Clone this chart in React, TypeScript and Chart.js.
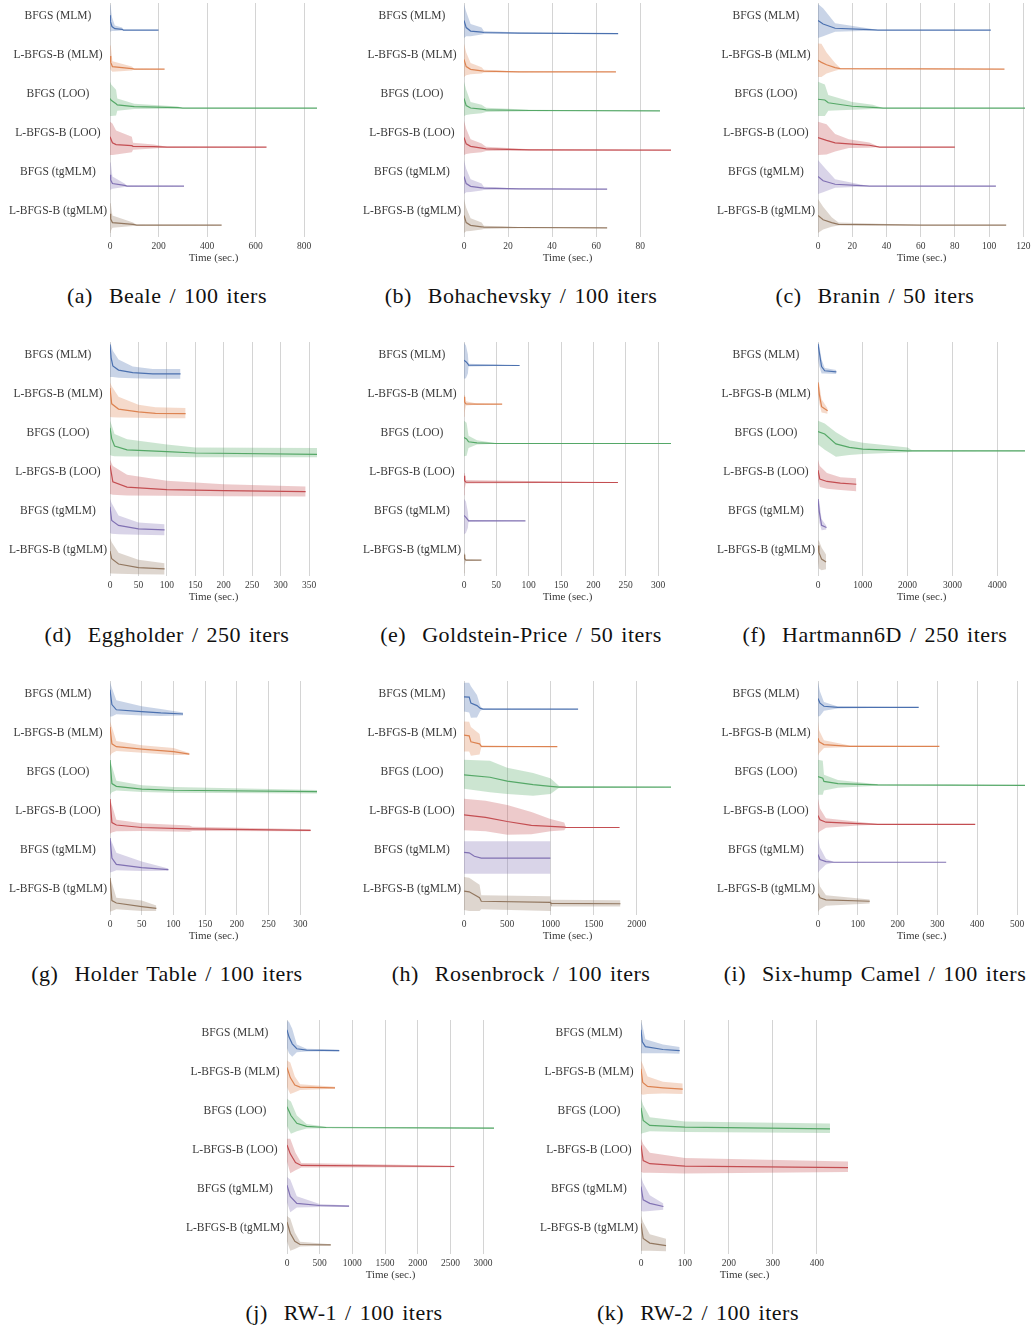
import React, { useEffect, useRef } from "react";
import { Chart, registerables } from "chart.js";

Chart.register(...registerables);

// Each point: [time (sec.), mean, lower band, upper band]; values are row-normalised (0 = row bottom, 1 = row top)
type Pt = [number, number, number, number];

const rowLabels = [
  "BFGS (MLM)",
  "L-BFGS-B (MLM)",
  "BFGS (LOO)",
  "L-BFGS-B (LOO)",
  "BFGS (tgMLM)",
  "L-BFGS-B (tgMLM)",
];

const panelTitles = [
  "(a)  Beale / 100 iters",
  "(b)  Bohachevsky / 100 iters",
  "(c)  Branin / 50 iters",
  "(d)  Eggholder / 250 iters",
  "(e)  Goldstein-Price / 50 iters",
  "(f)  Hartmann6D / 250 iters",
  "(g)  Holder Table / 100 iters",
  "(h)  Rosenbrock / 100 iters",
  "(i)  Six-hump Camel / 100 iters",
  "(j)  RW-1 / 100 iters",
  "(k)  RW-2 / 100 iters",
];

const panelXMax = [853, 94, 121, 364, 320, 4620, 326, 2395, 520, 3167, 471];

const panelXTicks = [
  [0, 200, 400, 600, 800],
  [0, 20, 40, 60, 80],
  [0, 20, 40, 60, 80, 100, 120],
  [0, 50, 100, 150, 200, 250, 300, 350],
  [0, 50, 100, 150, 200, 250, 300],
  [0, 1000, 2000, 3000, 4000],
  [0, 50, 100, 150, 200, 250, 300],
  [0, 500, 1000, 1500, 2000],
  [0, 100, 200, 300, 400, 500],
  [0, 500, 1000, 1500, 2000, 2500, 3000],
  [0, 100, 200, 300, 400],
];

const bealeRuns: Pt[][] = [
  [[0, .65, .18, .99], [2, .47, .18, .95], [8, .33, .2, .6], [20, .27, .2, .36], [50, .25, .22, .3], [55, .23, .23, .23], [200, .23, .23, .23]],
  [[0, .6, .25, .96], [3, .42, .2, .9], [10, .3, .15, .45], [90, .24, .19, .3], [100, .23, .22, .24], [225, .23, .23, .23]],
  [[0, .5, 0, .98], [5, .45, 0, .9], [25, .35, .02, .75], [30, .32, .15, .5], [100, .27, .2, .35], [280, .24, .21, .27], [300, .23, .23, .23], [853, .23, .23, .23]],
  [[0, .52, 0, .95], [10, .35, 0, .9], [25, .3, .02, .7], [90, .27, .08, .52], [95, .25, .15, .35], [180, .24, .19, .3], [235, .23, .22, .24], [645, .23, .23, .23]],
  [[0, .55, .12, .97], [3, .4, .12, .9], [10, .3, .15, .5], [60, .25, .2, .3], [70, .23, .22, .24], [305, .23, .23, .23]],
  [[0, .55, 0, .94], [3, .4, .05, .85], [10, .3, .15, .5], [95, .25, .2, .3], [110, .23, .22, .24], [460, .23, .23, .23]],
];

const bohachevskyRuns: Pt[][] = [
  [[0, .5, 0, .97], [1, .3, .05, .75], [3, .2, .05, .4], [8, .17, .1, .3], [9, .16, .12, .2], [25, .14, .13, .16], [70, .13, .13, .13]],
  [[0, .5, 0, .96], [1, .3, .05, .7], [3, .22, .08, .4], [8, .18, .1, .28], [9, .17, .13, .21], [25, .15, .14, .16], [69, .15, .15, .15]],
  [[0, .5, 0, .98], [1, .3, .03, .75], [3, .23, .05, .4], [8, .2, .08, .32], [10, .18, .12, .24], [30, .16, .14, .18], [89, .15, .15, .15]],
  [[0, .5, 0, .98], [1, .32, .03, .75], [3, .25, .05, .45], [8, .2, .08, .33], [10, .18, .12, .24], [30, .15, .13, .17], [94, .14, .14, .14]],
  [[0, .5, 0, .97], [1, .3, .05, .72], [3, .22, .06, .42], [8, .18, .1, .3], [9, .17, .12, .21], [25, .15, .14, .16], [65, .14, .14, .14]],
  [[0, .5, 0, .97], [1, .3, .05, .72], [3, .22, .06, .42], [8, .18, .1, .3], [9, .17, .12, .21], [25, .16, .14, .17], [65, .15, .15, .15]],
];

const braninRuns: Pt[][] = [
  [[0, .5, 0, .97], [3, .4, .05, .85], [10, .28, .18, .42], [30, .24, .21, .27], [35, .23, .23, .23], [101, .23, .23, .23]],
  [[0, .48, 0, .96], [2, .42, 0, .95], [5, .35, .1, .7], [10, .27, .18, .4], [13, .24, .22, .26], [109, .23, .23, .23]],
  [[0, .48, 0, .98], [4, .46, 0, .9], [6, .38, .15, .6], [20, .28, .18, .4], [32, .25, .2, .32], [38, .23, .23, .23], [121, .23, .23, .23]],
  [[0, .5, 0, .95], [5, .42, .02, .88], [10, .35, .1, .6], [18, .32, .2, .45], [30, .28, .21, .36], [36, .23, .23, .23], [80, .23, .23, .23]],
  [[0, .5, 0, .97], [3, .38, .05, .8], [10, .28, .18, .42], [25, .24, .21, .27], [30, .23, .23, .23], [104, .23, .23, .23]],
  [[0, .5, 0, .97], [3, .38, .1, .75], [8, .3, .18, .45], [12, .25, .22, .3], [60, .23, .23, .23], [110, .23, .23, .23]],
];

const eggholderRuns: Pt[][] = [
  [[0, .93, 0, .97], [2, .55, 0, .9], [5, .32, 0, .75], [15, .2, -.02, .5], [40, .13, -.03, .3], [75, .09, -.05, .23], [124, .09, -.05, .23]],
  [[0, .8, -.02, .96], [3, .35, -.03, .85], [15, .2, -.04, .55], [50, .12, -.05, .32], [80, .08, -.06, .25], [133, .07, -.06, .23]],
  [[0, .78, 0, .98], [3, .47, -.02, .85], [8, .26, -.03, .6], [30, .15, -.04, .45], [100, .1, -.05, .3], [150, .06, -.06, .22], [364, .02, -.06, .2]],
  [[0, .82, 0, .98], [5, .35, -.02, .8], [30, .2, -.04, .55], [100, .13, -.05, .38], [200, .1, -.06, .28], [344, .07, -.07, .22]],
  [[0, .75, 0, .97], [3, .36, -.02, .85], [15, .22, -.03, .5], [50, .12, -.05, .3], [96, .09, -.06, .25]],
  [[0, .6, -.03, .97], [3, .38, -.04, .85], [15, .23, -.05, .55], [50, .13, -.06, .35], [96, .09, -.07, .25]],
];

const goldsteinRuns: Pt[][] = [
  [[0, .48, -.05, .98], [3, .44, -.03, .9], [6, .38, .1, .65], [7, .34, .3, .38], [86, .33, .33, .33]],
  [[0, .55, -.02, .98], [1, .4, .1, .6], [3, .35, .3, .42], [20, .34, .32, .36], [59, .34, .34, .34]],
  [[0, .5, -.03, .98], [4, .46, -.02, .92], [7, .38, .2, .55], [20, .35, .3, .42], [50, .33, .32, .34], [320, .33, .33, .33]],
  [[0, .52, -.03, .98], [1, .38, .15, .6], [3, .34, .3, .4], [238, .33, .33, .33]],
  [[0, .5, -.03, .98], [3, .45, 0, .9], [6, .38, .15, .6], [7, .35, .33, .37], [95, .35, .35, .35]],
  [[0, .5, -.03, .98], [1, .38, .2, .55], [3, .34, .32, .36], [27, .34, .34, .34]],
];

const hartmannRuns: Pt[][] = [
  [[0, .95, .5, .98], [30, .7, .3, .9], [80, .3, .1, .5], [150, .18, .1, .26], [410, .15, .09, .2]],
  [[0, .96, .6, .98], [30, .62, .35, .9], [80, .27, .1, .48], [215, .15, .07, .22]],
  [[0, .67, .3, .98], [150, .6, .15, .9], [400, .32, -.05, .65], [700, .22, 0, .42], [1000, .17, .03, .35], [2000, .12, .08, .22], [2100, .12, .1, .14], [4620, .12, .11, .13]],
  [[0, .68, .4, .98], [40, .43, .2, .8], [200, .36, .15, .6], [500, .31, .12, .48], [855, .28, .08, .45]],
  [[0, .97, .6, .98], [30, .6, .3, .9], [80, .22, .08, .4], [190, .16, .1, .2]],
  [[0, .76, .3, .98], [20, .56, .1, .9], [80, .37, .05, .7], [180, .29, .08, .5]],
];

const holderRuns: Pt[][] = [
  [[0, .75, -.01, .97], [3, .33, -.01, .8], [10, .18, .05, .45], [50, .13, .02, .28], [80, .09, 0, .2], [115, .06, .02, .1]],
  [[0, .8, -.02, .96], [3, .32, .05, .8], [10, .24, .12, .4], [50, .17, .07, .28], [100, .1, 0, .2], [125, .03, 0, .06]],
  [[0, .97, -.02, .98], [3, .3, .05, .8], [10, .22, .1, .38], [50, .14, .06, .25], [100, .11, .04, .2], [326, .07, .02, .12]],
  [[0, .97, -.02, .98], [3, .3, .02, .8], [10, .23, .05, .38], [50, .16, .06, .28], [125, .12, .04, .22], [130, .12, .06, .18], [316, .08, .05, .11]],
  [[0, .97, -.01, .97], [3, .4, 0, .85], [10, .22, .05, .55], [50, .13, .03, .3], [92, .07, .04, .1]],
  [[0, .94, -.02, .97], [3, .3, 0, .8], [10, .23, .05, .38], [50, .13, 0, .3], [73, .08, 0, .16]],
];

const rosenbrockRuns: Pt[][] = [
  [[0, .55, .13, .95], [60, .54, .1, .95], [80, .37, -.05, .85], [150, .3, -.04, .6], [190, .22, .15, .28], [220, .2, .19, .21], [1320, .2, .2, .2]],
  [[0, .57, .1, .96], [60, .55, .1, .95], [80, .38, -.02, .8], [180, .32, .02, .6], [200, .25, .22, .28], [1080, .24, .24, .24]],
  [[0, .55, .15, .98], [300, .48, .05, .95], [500, .37, 0, .75], [800, .27, -.05, .6], [1000, .22, 0, .45], [1100, .2, .18, .23], [2395, .2, .2, .2]],
  [[0, .52, .08, .98], [250, .45, .05, .92], [500, .33, -.05, .8], [780, .22, -.03, .6], [1000, .19, .05, .4], [1160, .17, .08, .3], [1180, .16, .16, .16], [1800, .16, .16, .16]],
  [[0, .56, -.05, .88], [60, .55, -.05, .88], [120, .45, -.05, .88], [200, .4, -.05, .88], [1000, .4, -.05, .88]],
  [[0, .57, .03, .97], [60, .55, 0, .95], [180, .38, 0, .75], [200, .28, .05, .45], [1000, .25, 0, .42], [1005, .22, .13, .32], [1810, .21, .13, .31]],
];

const camelRuns: Pt[][] = [
  [[0, .5, -.01, .97], [5, .37, 0, .7], [15, .28, .15, .4], [50, .25, .22, .27], [253, .25, .25, .25]],
  [[0, .48, -.02, .96], [3, .38, .05, .7], [15, .3, .2, .42], [80, .25, .23, .27], [305, .25, .25, .25]],
  [[0, .5, -.02, .98], [12, .45, -.02, .95], [15, .36, .1, .55], [50, .3, .18, .4], [150, .26, .24, .28], [520, .25, .25, .25]],
  [[0, .5, 0, .98], [5, .38, .05, .7], [20, .31, .15, .42], [100, .27, .22, .32], [150, .25, .24, .26], [395, .25, .25, .25]],
  [[0, .5, -.02, .97], [5, .36, .05, .7], [20, .3, .22, .38], [40, .28, .27, .29], [322, .28, .28, .28]],
  [[0, .5, -.02, .97], [5, .38, .05, .7], [20, .32, .15, .45], [130, .28, .22, .33]],
];

const rw1Runs: Pt[][] = [
  [[0, .72, .2, .97], [30, .52, .05, .95], [80, .32, -.05, .75], [150, .18, .08, .3], [300, .14, .1, .18], [800, .13, .11, .15]],
  [[0, .76, .2, .96], [50, .47, 0, .9], [120, .26, .05, .5], [200, .2, .12, .28], [735, .18, .15, .21]],
  [[0, .75, .2, .98], [60, .5, -.02, .9], [150, .28, .05, .5], [300, .19, .13, .26], [600, .16, .14, .18], [3167, .14, .13, .15]],
  [[0, .77, .3, .95], [50, .52, -.03, .95], [130, .27, .05, .55], [220, .19, .13, .26], [2560, .16, .14, .18]],
  [[0, .74, .25, .97], [50, .42, -.03, .9], [150, .22, .1, .42], [500, .16, .12, .2], [950, .14, .12, .16]],
  [[0, .8, .25, .97], [50, .48, -.02, .9], [120, .25, .03, .5], [200, .16, .1, .24], [670, .15, .13, .17]],
];

const rw2Runs: Pt[][] = [
  [[0, .72, .05, .97], [3, .38, .05, .85], [10, .24, .05, .45], [50, .16, .05, .3], [88, .13, .04, .23]],
  [[0, .72, 0, .96], [4, .33, -.02, .85], [15, .22, 0, .5], [50, .18, .02, .35], [95, .14, 0, .3]],
  [[0, .72, -.02, .98], [5, .36, 0, .8], [20, .22, .05, .45], [100, .17, .03, .33], [430, .12, 0, .27]],
  [[0, .76, 0, .95], [5, .33, -.02, .8], [20, .24, -.02, .55], [100, .17, -.04, .4], [471, .13, 0, .3]],
  [[0, .7, 0, .97], [5, .32, -.01, .8], [20, .22, 0, .45], [51, .13, .04, .22]],
  [[0, .76, -.02, .97], [5, .33, -.02, .8], [20, .2, -.02, .45], [57, .13, -.03, .32]],
];

const panelRuns = [
  bealeRuns, bohachevskyRuns, braninRuns, eggholderRuns, goldsteinRuns, hartmannRuns,
  holderRuns, rosenbrockRuns, camelRuns, rw1Runs, rw2Runs,
];

// ---- styling ----
const rowColors = ["#4C72B0", "#DD8452", "#55A868", "#C44E52", "#8172B3", "#937860"];
const FONT = "'Liberation Serif', 'Times New Roman', serif";
const TEXT = "#3a3a3a";
const ROW_SPAN = 0.9;
const PLOT_W = 207;
const PLOT_H = 234;
const YAXIS_W = 110;
const XAXIS_H = 30;
const PAD_TOP = 3;
const PAD_RIGHT = 23;

function withAlpha(hex: string, a: number) {
  const n = parseInt(hex.slice(1), 16);
  return `rgba(${(n >> 16) & 255},${(n >> 8) & 255},${n & 255},${a})`;
}

function Panel({ idx }: { idx: number }) {
  const ref = useRef<HTMLCanvasElement | null>(null);
  const row = Math.floor(idx / 3);
  const col = row < 3 ? idx % 3 : (idx - 9) + 0.5;
  const plotLeft = 110 + 354 * col;
  const plotTop = 3 + 339 * row;

  useEffect(() => {
    if (!ref.current) return;
    const runs = panelRuns[idx];
    const ticks = panelXTicks[idx];
    const datasets: any[] = [];
    runs.forEach((run, i) => {
      const c = rowColors[i];
      const map = (v: number) => i + (1 - v) * ROW_SPAN;
      datasets.push({
        data: run.map((p) => ({ x: p[0], y: map(p[3]) })),
        borderColor: "transparent",
        borderWidth: 0,
        pointRadius: 0,
        fill: false,
        tension: 0,
      });
      datasets.push({
        data: run.map((p) => ({ x: p[0], y: map(p[2]) })),
        borderColor: "transparent",
        borderWidth: 0,
        pointRadius: 0,
        fill: "-1",
        backgroundColor: withAlpha(c, 0.3),
        tension: 0,
      });
      datasets.push({
        data: run.map((p) => ({ x: p[0], y: map(p[1]) })),
        borderColor: c,
        borderWidth: 1.2,
        pointRadius: 0,
        fill: false,
        tension: 0,
      });
    });

    const chart = new Chart(ref.current, {
      type: "line",
      data: { datasets },
      options: {
        responsive: false,
        animation: false,
        events: [],
        layout: { padding: { top: PAD_TOP, right: PAD_RIGHT, left: 0, bottom: 0 } },
        plugins: { legend: { display: false }, tooltip: { enabled: false } },
        scales: {
          x: {
            type: "linear",
            min: 0,
            max: panelXMax[idx],
            grid: { color: "#d4d4d4", lineWidth: 1, drawTicks: false },
            border: { display: false },
            afterBuildTicks: (s: any) => {
              s.ticks = ticks.map((v) => ({ value: v }));
            },
            afterFit: (s: any) => {
              s.height = XAXIS_H;
              s.paddingLeft = 0;
            },
            ticks: {
              autoSkip: false,
              maxRotation: 0,
              padding: 4,
              color: TEXT,
              font: { family: FONT, size: 9.5 },
              callback: (v: any) => String(v),
            },
            title: {
              display: true,
              text: "Time (sec.)",
              color: TEXT,
              font: { family: FONT, size: 11 },
              padding: { top: 0, bottom: 2 },
            },
          },
          y: {
            type: "linear",
            min: 0,
            max: 6,
            reverse: true,
            grid: { display: false, drawTicks: false },
            border: { display: false },
            afterBuildTicks: (s: any) => {
              s.ticks = rowLabels.map((_, i) => ({ value: i + 0.33 }));
            },
            afterFit: (s: any) => {
              s.width = YAXIS_W;
              s.paddingTop = 0;
              s.paddingBottom = 0;
            },
            ticks: {
              autoSkip: false,
              padding: 3,
              crossAlign: "center",
              color: TEXT,
              font: { family: FONT, size: 11.5 },
              callback: (_v: any, i: number) => rowLabels[i],
            },
          },
        },
      } as any,
    });
    return () => chart.destroy();
  }, [idx]);

  const canvasW = YAXIS_W + PLOT_W + PAD_RIGHT;
  const canvasH = PAD_TOP + PLOT_H + XAXIS_H;
  const capCenter = plotLeft + 57;

  return (
    <>
      <canvas
        ref={ref}
        width={canvasW}
        height={canvasH}
        style={{
          position: "absolute",
          left: plotLeft - YAXIS_W,
          top: plotTop - PAD_TOP,
          width: canvasW,
          height: canvasH,
        }}
      />
      <div
        style={{
          position: "absolute",
          left: capCenter - 200,
          width: 400,
          top: plotTop + 293 - 13,
          height: 26,
          lineHeight: "26px",
          textAlign: "center",
          fontFamily: FONT,
          fontSize: 22,
          color: "#111",
          whiteSpace: "pre",
          letterSpacing: "0.5px",
          wordSpacing: "2px",
        }}
      >
        {panelTitles[idx]}
      </div>
    </>
  );
}

export default function App() {
  return (
    <div style={{ position: "absolute", left: 0, top: 0, width: 1033, height: 1329, background: "#fff" }}>
      {panelTitles.map((_, i) => (
        <Panel key={i} idx={i} />
      ))}
    </div>
  );
}
